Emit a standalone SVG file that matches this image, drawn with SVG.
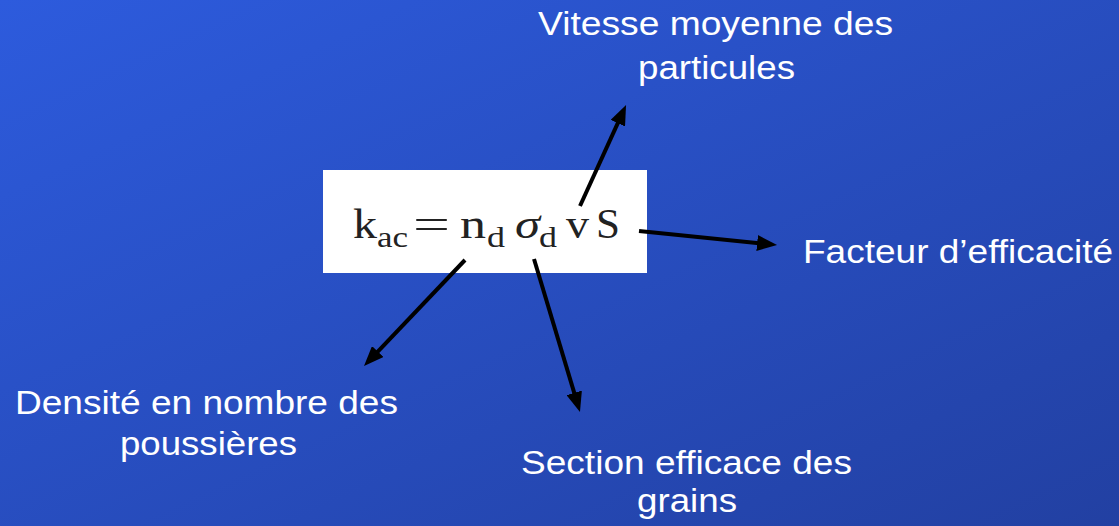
<svg xmlns="http://www.w3.org/2000/svg" width="1119" height="526" viewBox="0 0 1119 526">
<defs>
<linearGradient id="bg" x1="0" y1="0" x2="1" y2="1">
<stop offset="0" stop-color="#2D5BDD"/>
<stop offset="1" stop-color="#2240A2"/>
</linearGradient>
<marker id="ah" markerUnits="userSpaceOnUse" markerWidth="20" markerHeight="16" refX="10" refY="8" orient="auto" viewBox="0 0 20 16">
<path d="M0,0 L20,8 L0,16 z" fill="#000"/>
</marker>
<style>
.lbl{font-family:"Liberation Sans",Arial,sans-serif;font-size:34px;fill:#fff}
.eq{font-family:"Liberation Serif","Times New Roman",serif;fill:#222}
.m{font-size:42px}
.s{font-size:29px}
.conn line{stroke:#000;stroke-width:4;marker-end:url(#ah)}
</style>
</defs>
<rect width="1119" height="526" fill="url(#bg)"/>
<g id="equation">
<rect x="323" y="170" width="324" height="103" fill="#fff"/>
<text class="eq m" x="353" y="238" textLength="24" lengthAdjust="spacingAndGlyphs">k</text>
<text class="eq s" x="377" y="247" textLength="31" lengthAdjust="spacingAndGlyphs">ac</text>
<text class="eq m" x="413" y="238" textLength="37" lengthAdjust="spacingAndGlyphs">=</text>
<text class="eq m" x="460" y="238" textLength="26" lengthAdjust="spacingAndGlyphs">n</text>
<text class="eq s" x="487" y="247" textLength="18" lengthAdjust="spacingAndGlyphs">d</text>
<text class="eq m" x="515" y="238" font-style="italic" textLength="25" lengthAdjust="spacingAndGlyphs">σ</text>
<text class="eq s" x="539" y="247" textLength="18" lengthAdjust="spacingAndGlyphs">d</text>
<text class="eq m" x="566" y="238" textLength="23" lengthAdjust="spacingAndGlyphs">v</text>
<text class="eq m" x="596" y="238" textLength="24" lengthAdjust="spacingAndGlyphs">S</text>
</g>
<g id="vitesse">
<text class="lbl" x="538" y="35" textLength="355" lengthAdjust="spacingAndGlyphs">Vitesse moyenne des</text>
<text class="lbl" x="638" y="79" textLength="157" lengthAdjust="spacingAndGlyphs">particules</text>
</g>
<g id="facteur">
<text class="lbl" x="803" y="263" textLength="310" lengthAdjust="spacingAndGlyphs">Facteur d’efficacité</text>
</g>
<g id="densite">
<text class="lbl" x="15" y="414" textLength="383" lengthAdjust="spacingAndGlyphs">Densité en nombre des</text>
<text class="lbl" x="120" y="455" textLength="177" lengthAdjust="spacingAndGlyphs">poussières</text>
</g>
<g id="section">
<text class="lbl" x="521" y="474" textLength="331" lengthAdjust="spacingAndGlyphs">Section efficace des</text>
<text class="lbl" x="637" y="512" textLength="100" lengthAdjust="spacingAndGlyphs">grains</text>
</g>
<g id="connectors" class="conn">
<line x1="580" y1="206" x2="621.9" y2="114.1"/>
<line x1="639" y1="231" x2="767.1" y2="244"/>
<line x1="465" y1="260" x2="370.9" y2="358.8"/>
<line x1="534" y1="259" x2="577.1" y2="402.4"/>
</g>
</svg>
